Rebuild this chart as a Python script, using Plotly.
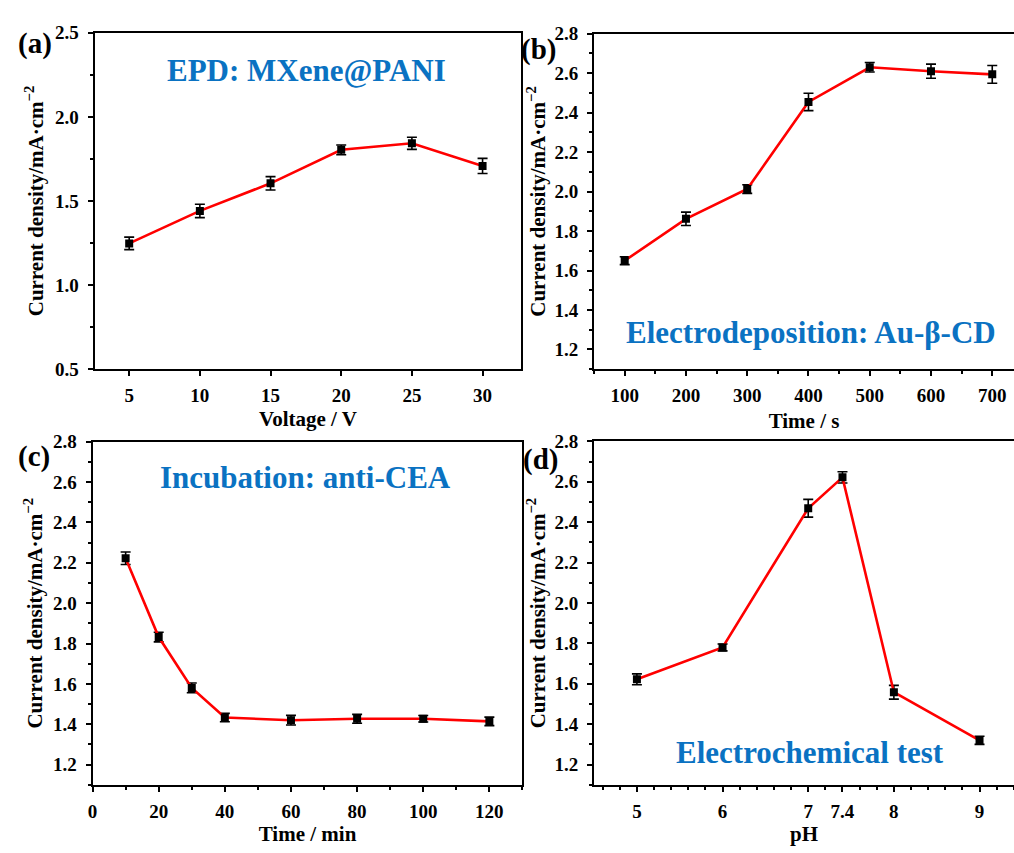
import plotly.graph_objects as go

# ---------------- data ----------------
a_voltage = [5, 10, 15, 20, 25, 30]
a_current = [1.248, 1.441, 1.605, 1.804, 1.843, 1.708]
a_err = [0.037, 0.040, 0.040, 0.029, 0.036, 0.045]

b_time = [100, 200, 300, 400, 500, 600, 700]
b_current = [1.650, 1.862, 2.013, 2.454, 2.630, 2.610, 2.594]
b_err = [0.020, 0.034, 0.022, 0.044, 0.024, 0.036, 0.045]

c_time = [10, 20, 30, 40, 60, 80, 100, 120]
c_current = [2.223, 1.832, 1.580, 1.433, 1.420, 1.427, 1.427, 1.414]
c_err = [0.031, 0.024, 0.024, 0.021, 0.024, 0.022, 0.016, 0.021]
c_xticks = [0, 20, 40, 60, 80, 100, 120]

d_ph = [5, 6, 7, 7.4, 8, 9]
d_current = [1.622, 1.780, 2.469, 2.622, 1.558, 1.320]
d_err = [0.027, 0.017, 0.044, 0.028, 0.034, 0.020]
d_ticks = [5, 6, 7, 7.4, 8, 9]
d_ticklabels = ["5", "6", "7", "7.4", "8", "9"]

a_yticks = [0.5, 1.0, 1.5, 2.0, 2.5]
bcd_yticks = [1.2, 1.4, 1.6, 1.8, 2.0, 2.2, 2.4, 2.6, 2.8]

ylabel = "<b>Current density/mA·cm<sup>−2</sup></b>"

W, H = 1014, 853
FONT = "Liberation Serif, Times New Roman, serif"
BLUE = "#0a72c2"


def px_x(p):
    return p / W


def px_y(p):
    return 1 - p / H


def bold(vals, fmt):
    return ["<b>" + fmt.format(v) + "</b>" for v in vals]


fig = go.Figure()

panels = [
    ("a", a_voltage, a_current, a_err),
    ("b", b_time, b_current, b_err),
    ("c", c_time, c_current, c_err),
    ("d", d_ph, d_current, d_err),
]

for i, (name, xs, ys, es) in enumerate(panels):
    suffix = "" if i == 0 else str(i + 1)
    fig.add_trace(go.Scatter(
        x=xs, y=ys,
        mode="lines+markers",
        line=dict(color="#ff0000", width=2.6),
        marker=dict(symbol="square", size=8, color="black"),
        error_y=dict(type="data", array=es, visible=True, color="black",
                     thickness=1.6, width=5),
        xaxis="x" + suffix, yaxis="y" + suffix,
        showlegend=False,
    ))

common_axis = dict(
    showline=True, linecolor="black", linewidth=2,
    ticks="outside", ticklen=5, tickwidth=2, tickcolor="black",
    showgrid=False, zeroline=False,
    tickfont=dict(family=FONT, size=19, color="black"),
    title_font=dict(family=FONT, size=21, color="black"),
)
x_common = dict(common_axis, ticklabelstandoff=3)
y_common = dict(common_axis, ticklabelstandoff=5)


def minor(dtick, tick0):
    return dict(tickmode="linear", dtick=dtick, tick0=tick0, ticks="outside",
                ticklen=3, tickwidth=2, tickcolor="black")


fig.update_layout(
    # panel (a)
    xaxis=dict(domain=[px_x(90), px_x(519)], range=[2.55, 32.75],
               tickvals=a_voltage, ticktext=bold(a_voltage, "{}"), anchor="y",
               mirror=True,
               title=dict(text="<b>Voltage / V</b>", standoff=6), **x_common),
    yaxis=dict(domain=[px_y(368.3), px_y(23.3)], range=[0.5, 2.5],
               tickvals=a_yticks, ticktext=bold(a_yticks, "{:.1f}"), anchor="x", mirror=True,
               minor=minor(0.25, 0.5),
               title=dict(text=ylabel, standoff=6), **y_common),
    # panel (b)
    xaxis2=dict(domain=[px_x(592), 1.0], range=[50, 50 + (1014 - 592) / 0.6156],
                tickvals=b_time, ticktext=bold(b_time, "{}"), anchor="y2", mirror=True,
                minor=minor(100, 50),
                title=dict(text="<b>Time / s</b>", standoff=8), **x_common),
    yaxis2=dict(domain=[px_y(368.3), px_y(24.3)], range=[1.1, 2.8],
                tickvals=bcd_yticks, ticktext=bold(bcd_yticks, "{:.1f}"), anchor="x2",
                minor=minor(0.1, 1.1),
                title=dict(text=ylabel, standoff=3), **y_common),
    # panel (c)
    xaxis3=dict(domain=[px_x(88), px_x(520)], range=[0, 130],
                tickvals=c_xticks, ticktext=bold(c_xticks, "{}"),
                anchor="y3", mirror=True,
                minor=minor(10, 0),
                title=dict(text="<b>Time / min</b>", standoff=4), **x_common),
    yaxis3=dict(domain=[px_y(794.3), px_y(442.7)], range=[1.1, 2.8],
                tickvals=bcd_yticks, ticktext=bold(bcd_yticks, "{:.1f}"), anchor="x3", mirror=True,
                minor=minor(0.1, 1.1),
                title=dict(text=ylabel, standoff=5), **y_common),
    # panel (d)
    xaxis4=dict(domain=[px_x(592), 1.0], range=[4.5, 4.5 + (1014 - 592) / 86.08],
                tickvals=d_ticks, ticktext=["<b>" + t + "</b>" for t in d_ticklabels],
                anchor="y4", mirror=True,
                minor=minor(0.2, 4.6),
                title=dict(text="<b>pH</b>", standoff=4), **x_common),
    yaxis4=dict(domain=[px_y(794.3), px_y(442.3)], range=[1.1, 2.8],
                tickvals=bcd_yticks, ticktext=bold(bcd_yticks, "{:.1f}"), anchor="x4",
                minor=minor(0.1, 1.1),
                title=dict(text=ylabel, standoff=3), **y_common),
)

annotations = [
    dict(text="<b>EPD: MXene@PANI</b>", x=px_x(303), y=px_y(62)),
    dict(text="<b>Electrodeposition: Au-β-CD</b>", x=px_x(810), y=px_y(331)),
    dict(text="<b>Incubation: anti-CEA</b>", x=px_x(302), y=px_y(479)),
    dict(text="<b>Electrochemical test</b>", x=px_x(809), y=px_y(761)),
]
for ann in annotations:
    fig.add_annotation(xref="paper", yref="paper", showarrow=False,
                       xanchor="center", yanchor="middle",
                       font=dict(family=FONT, size=31, color=BLUE),
                       **ann)

labels = [("(a)", 30, 34), ("(b)", 536, 40), ("(c)", 29, 458), ("(d)", 538, 461)]
for t, x, y in labels:
    fig.add_annotation(xref="paper", yref="paper", showarrow=False,
                       xanchor="center", yanchor="middle", text="<b>" + t + "</b>",
                       x=px_x(x), y=px_y(y),
                       font=dict(family=FONT, size=29, color="black"))

fig.update_layout(
    width=W, height=H,
    margin=dict(l=0, r=0, t=0, b=0),
    paper_bgcolor="white", plot_bgcolor="white",
)

fig.write_html("out.html")
